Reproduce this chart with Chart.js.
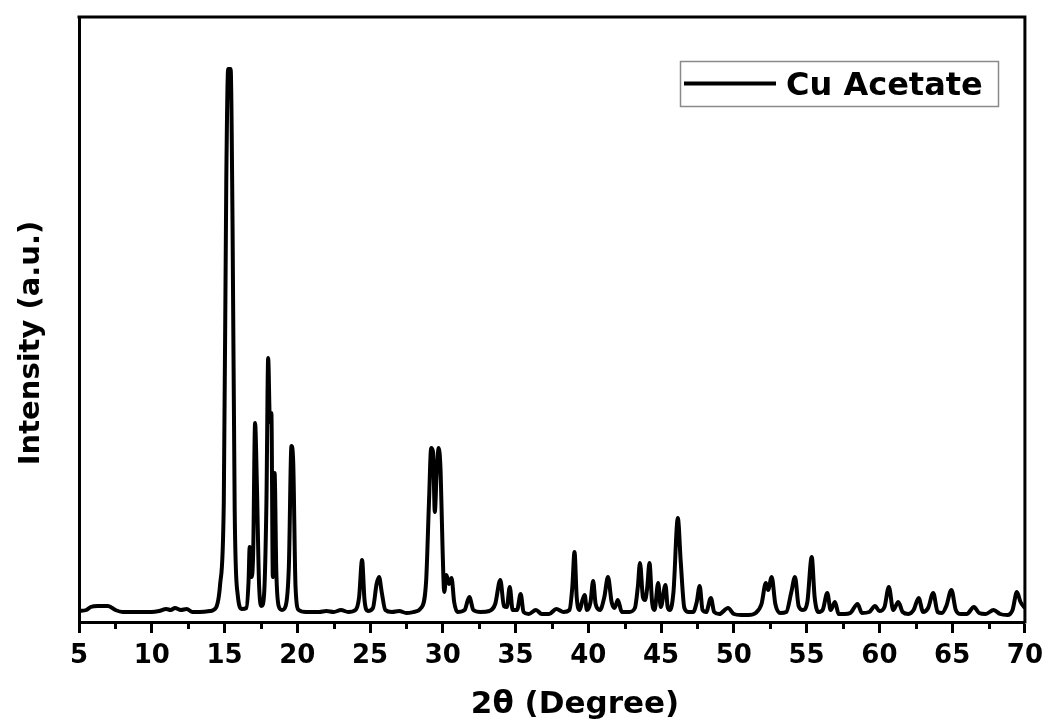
<!DOCTYPE html>
<html>
<head>
<meta charset="utf-8">
<script src="https://cdn.jsdelivr.net/npm/chart.js@4.4.1/dist/chart.umd.min.js"></script>
<style>
html,body{margin:0;padding:0;background:#fff;}
#wrap{width:1051px;height:723px;position:relative;}
</style>
</head>
<body>
<div id="wrap"><canvas id="c" width="1051" height="723"></canvas></div>
<script>
// ---- data ----
const seriesLabel = 'Cu Acetate';
const xTitle = '2θ (Degree)';
const yTitle = 'Intensity (a.u.)';
const xTicks = [5, 10, 15, 20, 25, 30, 35, 40, 45, 50, 55, 60, 65, 70];
const xMinorTicks = [7.5, 12.5, 17.5, 22.5, 27.5, 32.5, 37.5, 42.5, 47.5, 52.5, 57.5, 62.5, 67.5];

const twoTheta = [
  5.0, 5.5, 5.8, 6.3, 7.0, 7.5, 8.0, 9.0, 10.0, 10.5, 11.0, 11.3, 11.6, 12.0, 12.4, 12.8, 13.3, 14.0,
  14.4, 14.7, 14.95, 15.12, 15.25, 15.42, 15.55, 15.7, 15.9, 16.2,
  16.5, 16.65, 16.73, 16.85, 16.97, 17.1, 17.22, 17.38, 17.55, 17.72, 17.88, 18.0, 18.12, 18.22,
  18.32, 18.44, 18.56, 18.72, 18.95, 19.2, 19.42, 19.6, 19.72, 19.88, 20.1,
  20.6, 21.5, 22.0, 22.5, 23.0, 23.5, 24.0, 24.25, 24.45, 24.62, 24.85, 25.2, 25.45, 25.62, 25.8, 26.05,
  26.5, 27.0, 27.5, 28.0, 28.5, 28.85, 29.05, 29.2, 29.33, 29.45, 29.58, 29.72, 29.85, 29.98, 30.1,
  30.25, 30.42, 30.6, 30.78, 31.0, 31.5, 31.82, 32.1, 32.6, 33.2, 33.6, 33.95, 34.2, 34.4, 34.6, 34.8,
  35.1, 35.35, 35.55, 35.9, 36.4, 36.8, 37.3, 37.8, 38.3, 38.7, 38.9, 39.05, 39.2, 39.4, 39.6, 39.75,
  39.9, 40.15, 40.33, 40.5, 40.8, 41.1, 41.35, 41.6, 41.8, 42.03, 42.3, 42.8, 43.2, 43.4, 43.55, 43.75,
  43.9, 44.05, 44.2, 44.38, 44.55, 44.8, 44.98, 45.3, 45.45, 45.6, 45.85, 46.15, 46.35, 46.6, 46.9,
  47.2, 47.45, 47.65, 47.85, 48.1, 48.42, 48.65, 49.0, 49.6, 50.0, 50.5, 51.0, 51.5, 51.9, 52.2, 52.35,
  52.6, 52.85, 53.2, 53.6, 53.95, 54.2, 54.45, 54.75, 55.05, 55.35, 55.55, 55.8, 56.1, 56.42, 56.65,
  56.95, 57.2, 57.6, 58.0, 58.5, 58.8, 59.3, 59.7, 60.0, 60.35, 60.65, 60.95, 61.3, 61.6, 62.0, 62.35,
  62.7, 63.0, 63.35, 63.7, 64.0, 64.3, 64.6, 64.95, 65.25, 65.6, 66.0, 66.5, 66.85, 67.3, 67.85, 68.3,
  68.8, 69.15, 69.45, 69.7, 70.0
];

const intensity = [
  11, 12, 15, 16, 16, 12, 10, 10, 10, 11, 13, 12, 14, 12, 13, 10, 10, 11,
  14, 38, 120, 440, 553, 553, 400, 110, 28, 13,
  14, 40, 75, 45, 70, 199, 140, 35, 16, 28, 120, 264, 200, 209,
  45, 149, 50, 16, 12, 16, 55, 176, 160, 35, 12,
  10, 10, 11, 10, 12, 10, 12, 25, 62, 22, 11, 14, 38, 45, 30, 12,
  10, 11, 9, 10, 14, 40, 120, 174, 170, 110, 150, 174, 150, 75, 30,
  47, 38, 44, 20, 10, 12, 25, 12, 10, 11, 18, 42, 16, 15, 35, 12,
  12, 28, 10, 8, 12, 8, 8, 13, 10, 12, 35, 70, 25, 12, 22, 27,
  12, 20, 41, 18, 12, 25, 45, 20, 14, 22, 10, 10, 14, 35, 59, 25,
  22, 35, 59, 20, 12, 39, 15, 37, 15, 12, 30, 104, 60, 14, 10,
  10, 20, 36, 12, 10, 24, 10, 8, 14, 8, 7, 7, 9, 18, 39, 32,
  45, 18, 9, 10, 30, 45, 16, 12, 20, 65, 25, 10, 12, 29, 12,
  20, 8, 8, 9, 18, 9, 10, 16, 11, 15, 35, 12, 20, 10, 8, 12,
  24, 10, 14, 29, 10, 9, 16, 32, 12, 8, 8, 15, 9, 8, 12, 8,
  7, 12, 30, 20, 14
];

const FONT = 'DejaVu Sans';

const decorPlugin = {
  id: 'decor',
  afterDraw(chart) {
    const ctx = chart.ctx;
    const a = chart.chartArea;
    const xs = chart.scales.x;
    ctx.save();
    // top & right frame lines
    ctx.strokeStyle = '#000';
    ctx.lineWidth = 3;
    ctx.beginPath();
    ctx.moveTo(a.left - 1.5, a.top);
    ctx.lineTo(a.right, a.top);
    ctx.lineTo(a.right, a.bottom + 1.5);
    ctx.stroke();
    // minor ticks on x axis
    ctx.beginPath();
    xMinorTicks.forEach(v => {
      const px = Math.round(xs.getPixelForValue(v)) + 0.5;
      ctx.moveTo(px, a.bottom);
      ctx.lineTo(px, a.bottom + 7);
    });
    ctx.stroke();
    // axis titles
    ctx.fillStyle = '#000';
    ctx.font = 'bold 31px "' + FONT + '"';
    ctx.textAlign = 'center';
    ctx.textBaseline = 'alphabetic';
    ctx.fillText(xTitle, 575, 713);
    ctx.save();
    ctx.translate(39, 343);
    ctx.rotate(-Math.PI / 2);
    ctx.font = 'bold 29px "' + FONT + '"';
    ctx.fillText(yTitle, 0, 0);
    ctx.restore();
    // legend
    const ds = chart.data.datasets[0];
    ctx.strokeStyle = '#8a8a8a';
    ctx.lineWidth = 1.5;
    ctx.strokeRect(680.5, 61.5, 318, 45);
    ctx.strokeStyle = ds.borderColor;
    ctx.lineWidth = 4;
    ctx.beginPath();
    ctx.moveTo(684, 83.5);
    ctx.lineTo(776, 83.5);
    ctx.stroke();
    ctx.font = 'bold 32px "' + FONT + '"';
    ctx.textAlign = 'left';
    ctx.fillText(ds.label, 786, 95);
    ctx.restore();
  }
};

new Chart(document.getElementById('c'), {
  type: 'line',
  data: {
    datasets: [{
      label: seriesLabel,
      data: twoTheta.map((x, i) => ({ x: x, y: intensity[i] })),
      borderColor: '#000',
      borderWidth: 4,
      pointRadius: 0,
      fill: false,
      cubicInterpolationMode: 'monotone'
    }]
  },
  options: {
    responsive: false,
    animation: false,
    devicePixelRatio: 1,
    layout: { padding: { left: 0, top: 17, right: 24, bottom: 0 } },
    plugins: { legend: { display: false }, tooltip: { enabled: false } },
    scales: {
      x: {
        type: 'linear',
        min: 5,
        max: 70,
        afterFit(s) { s.height = 101; },
        afterBuildTicks(s) { s.ticks = xTicks.map(v => ({ value: v })); },
        ticks: {
          font: { family: FONT, size: 26, weight: 'bold' },
          color: '#000',
          padding: 8,
          maxRotation: 0,
          autoSkip: false
        },
        grid: {
          display: true,
          drawOnChartArea: false,
          drawTicks: true,
          tickLength: 11,
          tickWidth: 3,
          tickColor: '#000'
        },
        border: { display: true, width: 3, color: '#000' }
      },
      y: {
        type: 'linear',
        min: 0,
        max: 605,
        afterFit(s) { s.width = 79; },
        ticks: { display: false },
        grid: { display: false },
        border: { display: true, width: 3, color: '#000' }
      }
    }
  },
  plugins: [decorPlugin]
});
</script>
</body>
</html>
